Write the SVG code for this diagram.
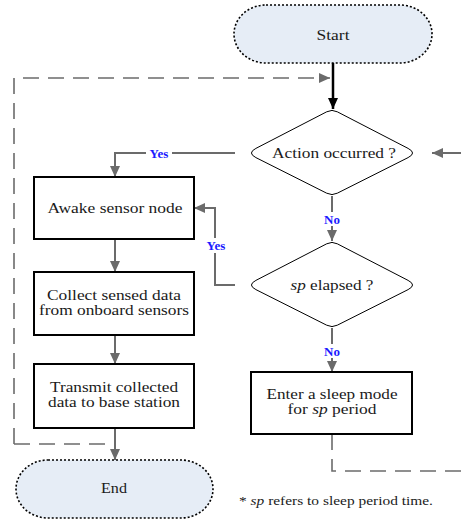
<svg xmlns="http://www.w3.org/2000/svg" width="461" height="522" viewBox="0 0 461 522">
<style>
text{font-family:"Liberation Serif",serif;fill:#1a1a1a;font-size:15px;text-anchor:middle}
.two{font-size:14px}
.lbl{font-weight:bold;fill:#1a1aff;font-size:13px}
.note{font-size:12.5px;text-anchor:start}
.term{fill:#e6edf6;stroke:#000;stroke-width:1.6;stroke-dasharray:2 2}
.box{fill:#fff;stroke:#000;stroke-width:2}
.dia{fill:#fff;stroke:#000;stroke-width:1}
.ln{fill:none;stroke:#6b6b6b;stroke-width:2}
.dash{fill:none;stroke:#6b6b6b;stroke-width:1.6;stroke-dasharray:16 9}
</style>
<defs>
<marker id="ag" markerUnits="userSpaceOnUse" markerWidth="12" markerHeight="10" refX="11" refY="5" orient="auto"><path d="M0,0 L11,5 L0,10 Z" fill="#6b6b6b"/></marker>
<marker id="ab" markerUnits="userSpaceOnUse" markerWidth="12" markerHeight="10" refX="11" refY="5" orient="auto"><path d="M0,0 L11,5 L0,10 Z" fill="#000"/></marker>
</defs>
<g id="connectors">
<line x1="333" y1="63" x2="333" y2="109" stroke="#000" stroke-width="2.5" marker-end="url(#ab)"/>
<path class="dash" d="M14,444 L14,78 L330,78" marker-end="url(#ag)"/>
<path class="dash" d="M14,444 L113,444"/>
<line class="ln" x1="461" y1="153" x2="432" y2="153" marker-end="url(#ag)"/>
<path class="ln" d="M235,153 L115,153 L115,177" marker-end="url(#ag)"/>
<line class="ln" x1="115" y1="239" x2="115" y2="272" marker-end="url(#ag)"/>
<line class="ln" x1="115" y1="335" x2="115" y2="364" marker-end="url(#ag)"/>
<line class="ln" x1="115" y1="428" x2="115" y2="460" marker-end="url(#ag)"/>
<line class="ln" x1="332" y1="196" x2="332" y2="241" marker-end="url(#ag)"/>
<path class="ln" d="M235,285 L215,285 L215,208 L194,208" marker-end="url(#ag)"/>
<line class="ln" x1="332" y1="328" x2="332" y2="372" marker-end="url(#ag)"/>
<path class="dash" d="M332,434 L332,471 L461,471"/>
<rect x="146" y="146" width="26" height="14" fill="#fff"/>
<text class="lbl" x="159" y="158">Yes</text>
<rect x="202" y="238" width="27" height="15" fill="#fff"/>
<text class="lbl" x="216" y="250">Yes</text>
<rect x="321" y="212" width="23" height="14" fill="#fff"/>
<text class="lbl" x="332" y="224">No</text>
<rect x="321" y="344" width="23" height="14" fill="#fff"/>
<text class="lbl" x="332" y="356">No</text>
</g>
<g id="start">
<rect class="term" x="234" y="5" width="198" height="58" rx="32" ry="29"/>
<text x="333" y="40" textLength="33" lengthAdjust="spacingAndGlyphs">Start</text>
</g>
<g id="action">
<path class="dia" d="M326.7 111.8 Q332 109 337.3 111.8 L408.1 148.4 Q417 153 408.1 157.6 L337.3 193.2 Q332 196 326.7 193.2 L255.9 157.6 Q247 153 255.9 148.4 Z"/>
<text x="334" y="158" textLength="124" lengthAdjust="spacingAndGlyphs">Action occurred ?</text>
</g>
<g id="awake">
<rect class="box" x="34" y="177" width="160" height="62"/>
<text x="115" y="213" textLength="135" lengthAdjust="spacingAndGlyphs">Awake sensor node</text>
</g>
<g id="collect">
<rect class="box" x="34" y="272" width="160" height="63"/>
<text class="two" x="114" y="300" textLength="134" lengthAdjust="spacingAndGlyphs">Collect sensed data</text>
<text class="two" x="114" y="315" textLength="150" lengthAdjust="spacingAndGlyphs">from onboard sensors</text>
</g>
<g id="transmit">
<rect class="box" x="34" y="364" width="160" height="64"/>
<text class="two" x="114" y="392" textLength="128" lengthAdjust="spacingAndGlyphs">Transmit collected</text>
<text class="two" x="114" y="407" textLength="132" lengthAdjust="spacingAndGlyphs">data to base station</text>
</g>
<g id="spelapsed">
<path class="dia" d="M326.7 243.8 Q332 241 337.3 243.8 L408.1 280.4 Q417 285 408.1 289.6 L337.3 325.2 Q332 328 326.7 325.2 L255.9 289.6 Q247 285 255.9 280.4 Z"/>
<text x="332" y="290" textLength="83" lengthAdjust="spacingAndGlyphs"><tspan font-style="italic">sp</tspan> elapsed ?</text>
</g>
<g id="sleep">
<rect class="box" x="251" y="372" width="161" height="62"/>
<text class="two" x="332" y="399" textLength="131" lengthAdjust="spacingAndGlyphs">Enter a sleep mode</text>
<text class="two" x="332" y="414" textLength="89" lengthAdjust="spacingAndGlyphs">for <tspan font-style="italic">sp</tspan> period</text>
</g>
<g id="end">
<rect class="term" x="16" y="460" width="197" height="58" rx="32" ry="29"/>
<text x="114" y="493" textLength="26" lengthAdjust="spacingAndGlyphs">End</text>
</g>
<text class="note" x="239" y="505" textLength="194" lengthAdjust="spacingAndGlyphs">* <tspan font-style="italic">sp</tspan> refers to sleep period time.</text>
</svg>
